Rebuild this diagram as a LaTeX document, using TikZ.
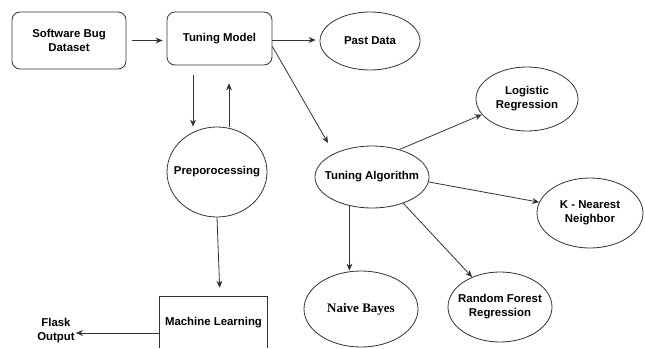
\documentclass[tikz,border=0pt]{standalone}
\usepackage{fontspec}
\setmainfont{Liberation Sans}
\newfontfamily\timesfont{Liberation Serif}
\usepackage{tikz}
\usetikzlibrary{shapes.geometric,arrows.meta,calc}

\begin{document}
\begin{tikzpicture}[
    x=1pt, y=-1pt,
    every node/.style={font=\fontsize{11.4}{14}\selectfont\bfseries, align=center},
    conn/.style={draw=black!80, line width=0.8pt},
    arr/.style={conn, -{Stealth[length=7pt,width=6pt]}},
    rbox/.style={draw=black!80, line width=0.8pt, rounded corners=8pt},
    oval/.style={draw=black!80, line width=0.8pt, ellipse, inner xsep=-12pt, inner ysep=0pt},
]
    \useasboundingbox (0,0) rectangle (645,348);

    % main chain
    \node[rbox, minimum width=114pt, minimum height=57pt] (sbd) at (69,40.5) {Software Bug\\Dataset};
    \node[rbox, minimum width=105pt, minimum height=53pt] (tm) at (219.5,38.5) {Tuning Model};
    \node[oval, minimum width=100pt, minimum height=58pt] (pd) at (370,41) {Past Data};
    \node[oval, minimum width=100pt, minimum height=90pt] (pre) at (217,172) {Preporocessing};
    \node[oval, minimum width=114pt, minimum height=62pt] (ta) at (372,177) {Tuning Algorithm};

    % classifiers
    \node[oval, minimum width=102pt, minimum height=64pt] (lr) at (527,99) {Logistic\\Regression};
    \node[oval, minimum width=106pt, minimum height=70pt] (knn) at (590,213) {K - Nearest\\Neighbor};
    \node[oval, minimum width=114pt, minimum height=76pt,
          font=\timesfont\fontsize{13}{15}\selectfont\bfseries] (nb) at (361,309) {Naive Bayes};
    \node[oval, minimum width=104pt, minimum height=70pt] (rf) at (500,307) {Random Forest\\Regression};

    % machine learning block (cut at the bottom) and output
    \node[minimum width=107pt, minimum height=51pt, inner sep=0pt] (ml) at (213.5,322.5) {Machine Learning};
    \draw[conn] (ml.south west) -- (ml.north west) -- (ml.north east) -- (ml.south east);
    \node[inner sep=1pt] (fo) at (56,331) {Flask\\Output};

    % arrows
    \draw[arr, shorten <=6pt, shorten >=4pt] (sbd.east) -- (sbd.east -| tm.west);
    \draw[arr, shorten >=4pt] ([yshift=-1.5pt]tm.east) -- ([yshift=-1.5pt]tm.east -| pd.west);
    \draw[arr, shorten <=10pt] ([xshift=-26.5pt]tm.south) -- ([xshift=-26.5pt]tm.south |- pre.north);
    \draw[arr, shorten >=18pt] ([xshift=9.5pt]tm.south |- pre.north) -- ([xshift=9.5pt]tm.south);
    \draw[arr] ([yshift=-8pt]tm.east) -- ($(ta.center)+(-44,-34)$);
    \draw[arr] (ta.45) -- (lr.199);
    \draw[arr] (ta.-5) -- (knn.168);
    \draw[arr] (ta.232) -- (ta.232 |- nb.north);
    \draw[arr] (ta.-40) -- (rf.133);
    \draw[arr, shorten >=9pt] (pre.south) -- ([xshift=6.5pt]ml.north);
    \draw[arr] ([yshift=-10.5pt]ml.west) -- ([yshift=-10.5pt]ml.west -| fo.east);
\end{tikzpicture}
\end{document}
